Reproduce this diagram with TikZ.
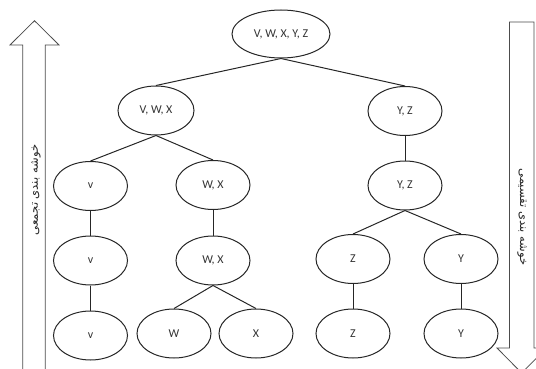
\documentclass[tikz,border=0pt]{standalone}
\usepackage{fontspec}
\setmainfont{Carlito}
\newfontfamily\arabicfont[Script=Arabic]{DejaVu Sans}
\TeXXeTstate=1
\usetikzlibrary{shapes.geometric}
\begin{document}
\begin{tikzpicture}[x=1pt,y=-1pt,
  cl/.style={ellipse,draw=black!85,line width=1pt,minimum width=74pt,minimum height=49pt,inner sep=0pt,font=\fontsize{12}{14}\selectfont,text=black!80},
  ln/.style={draw=black!85,line width=1pt},
  bigarrow/.style={draw=black!70,line width=0.8pt,fill=white},
  lbl/.style={font=\arabicfont\fontsize{11.5}{13}\selectfont,text=black!85,inner sep=0pt}]
\useasboundingbox (0,0) rectangle (536,369);
% left arrow (up)
\draw[bigarrow] (22.7,375) -- (22.7,45) -- (10,45) -- (34.5,20.7) -- (59,45) -- (45.3,45) -- (45.3,375);
% right arrow (down)
\draw[bigarrow] (509.5,22) -- (534,22) -- (534,348) -- (546.5,348) -- (521.7,373) -- (497,348) -- (509.5,348) -- cycle;
\node[lbl,rotate=90] (lt) at (36,190) {\beginR خوشه بندی تجمعی\endR};
\node[lbl,rotate=-90] (rt) at (522,217) {\beginR خوشه بندی تقسیمی\endR};
% nodes
\node[cl,minimum width=98pt,minimum height=48pt] (r) at (281,34) {V, W, X, Y, Z};
\node[cl,minimum width=76pt] (a) at (156,110.5) {V, W, X};
\node[cl] (b) at (405,111) {Y, Z};
\node[cl] (v1) at (90.5,186) {v};
\node[cl] (wx1) at (213,185) {W, X};
\node[cl] (yz1) at (405,185.5) {Y, Z};
\node[cl] (v2) at (90.5,260.5) {v};
\node[cl] (wx2) at (213,260.5) {W, X};
\node[cl] (z1) at (353,259) {Z};
\node[cl] (y1) at (461,259) {Y};
\node[cl] (v3) at (90.5,335.5) {v};
\node[cl] (w) at (174,333.5) {W};
\node[cl] (x) at (256,333.5) {X};
\node[cl] (z2) at (353,333.5) {Z};
\node[cl] (y2) at (461,333.5) {Y};
% edges
\draw[ln] (r.south) -- (a.north);
\draw[ln] (r.south) -- (b.north);
\draw[ln] (a.south) -- (v1.north);
\draw[ln] (a.south) -- (wx1.north);
\draw[ln] (b.south) -- (yz1.north);
\draw[ln] (v1.south) -- (v2.north);
\draw[ln] (wx1.south) -- (wx2.north);
\draw[ln] (yz1.south) -- (z1.north);
\draw[ln] (yz1.south) -- (y1.north);
\draw[ln] (v2.south) -- (v3.north);
\draw[ln] (wx2.south) -- (w.north);
\draw[ln] (wx2.south) -- (x.north);
\draw[ln] (z1.south) -- (z2.north);
\draw[ln] (y1.south) -- (y2.north);
\end{tikzpicture}
\end{document}
